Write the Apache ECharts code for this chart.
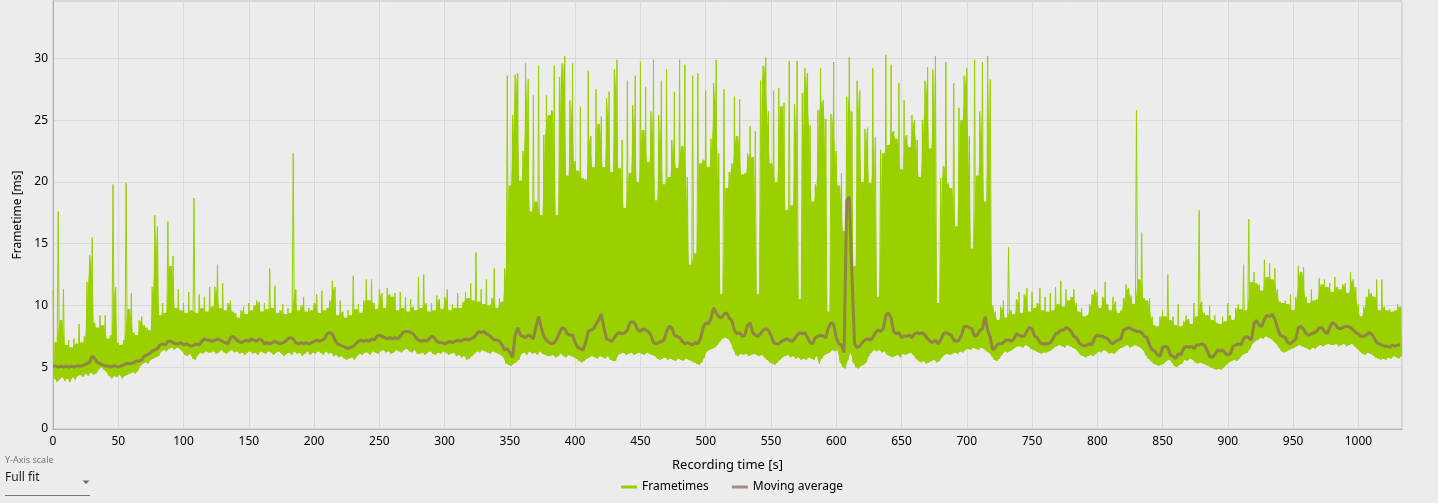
<!DOCTYPE html>
<html>
<head>
<meta charset="utf-8">
<script src="https://cdn.jsdelivr.net/npm/echarts@6/dist/echarts.min.js"></script>
<style>
html,body{margin:0;padding:0;background:#ececec;}
#c{width:1438px;height:503px;}
</style>
</head>
<body>
<div id="c"></div>
<script>
// Frametime samples, one bin every 2 s: peak (hi) and floor (lo) of each bin
const hi = [
11.2,7.0,17.6,8.8,11.3,6.8,7.2,6.6,7.3,6.9,
8.5,7.0,7.5,11.9,14.1,15.5,8.6,8.2,9.2,8.4,
9.2,7.3,7.6,19.8,11.5,7.0,6.8,7.2,19.9,9.7,
11.0,7.8,7.6,8.8,9.1,8.4,8.2,8.0,11.5,17.3,
16.4,9.2,10.2,9.4,16.8,13.2,14.0,9.8,11.3,9.6,
10.2,9.4,11.1,9.6,18.7,9.4,10.9,9.8,10.7,9.5,
11.5,9.9,11.5,13.3,9.8,11.8,9.6,10.2,10.4,9.5,
9.4,9.0,9.6,9.9,9.3,10.2,9.6,10.0,10.4,10.3,
9.5,10.2,9.7,13.0,9.8,11.6,9.4,9.6,10.1,9.3,
9.8,9.4,22.3,11.3,9.6,10.0,10.7,9.5,9.8,9.6,
10.2,10.9,9.4,11.2,9.6,9.8,10.4,12.0,11.5,9.2,
10.4,9.5,9.0,9.6,9.2,12.4,9.7,10.1,9.4,10.4,
12.1,10.4,12.1,10.2,9.7,11.3,11.0,9.8,11.4,10.9,
10.7,11.0,9.6,11.1,9.8,10.7,9.5,10.5,9.9,9.6,
12.3,9.8,12.5,10.2,9.5,10.2,9.6,10.8,10.5,9.7,
10.7,11.3,9.6,10.1,9.8,11.0,9.8,10.3,11.1,10.6,
11.8,10.4,14.3,10.3,11.3,10.1,12.1,10.0,10.6,13.0,
9.8,10.6,10.3,13.0,28.6,19.7,25.4,28.7,28.8,20.1,
22.5,29.6,28.3,17.6,27.0,18.4,29.4,17.3,23.8,27.0,
25.4,25.8,29.4,17.3,28.5,29.6,30.2,20.5,26.6,29.6,
21.7,20.9,26.1,20.3,20.2,29.0,23.7,21.2,27.5,24.7,
25.3,21.2,26.8,27.3,20.8,29.1,29.9,21.1,23.4,17.9,
28.2,20.7,26.2,28.6,20.0,29.7,24.2,27.7,21.6,25.7,
29.9,18.5,25.4,28.2,19.8,29.1,20.4,23.4,27.3,21.1,
29.9,22.9,29.5,20.4,13.3,28.6,14.2,28.8,21.5,21.8,
27.4,21.2,23.5,28.0,29.9,22.3,10.9,27.5,19.5,20.8,
21.5,26.9,23.7,26.7,20.6,20.7,22.3,24.5,22.0,24.1,
10.9,28.2,29.4,30.1,25.7,21.5,27.4,20.0,27.6,26.1,
26.4,17.7,29.8,18.1,26.3,29.8,10.5,27.2,29.2,28.8,
24.6,18.4,19.8,25.8,29.2,26.6,25.1,9.5,25.5,29.7,
22.5,19.7,20.7,16.0,26.9,30.1,25.7,13.2,28.2,27.4,
20.0,24.3,24.4,19.9,29.2,23.6,10.7,22.6,22.3,30.3,
23.0,29.5,24.1,23.5,28.0,21.0,26.6,23.8,22.8,25.4,
25.0,23.4,20.4,25.0,28.2,29.3,22.7,29.1,30.2,10.2,
20.3,21.3,29.7,19.9,19.5,28.0,16.4,26.0,25.0,28.6,
29.2,23.7,14.6,29.9,20.5,25.7,29.7,18.4,30.2,28.3,
10.0,9.5,8.8,9.9,10.4,9.0,14.7,9.6,9.3,10.5,
11.1,9.4,10.9,11.4,9.5,11.1,9.8,10.2,11.4,9.6,
10.7,9.5,11.0,9.6,11.5,10.1,12.0,9.9,11.3,10.4,
10.7,11.3,10.2,9.5,9.8,9.1,9.2,10.1,10.9,11.3,
11.1,9.8,10.7,11.9,10.1,9.6,10.7,10.3,9.4,9.6,
10.6,11.7,11.4,10.8,10.1,25.8,12.1,15.9,10.6,10.4,
10.6,9.1,8.4,8.3,9.1,9.6,9.1,12.5,8.8,9.1,
8.4,10.1,8.3,8.7,9.2,8.9,8.5,10.2,9.1,17.7,
10.3,9.4,9.2,10.0,8.8,9.2,8.6,8.5,9.1,8.7,
10.2,9.2,8.8,9.8,10.1,9.7,13.3,9.6,17.0,11.9,
12.7,11.8,11.7,11.2,13.7,12.3,13.4,12.1,13.0,11.3,
10.3,10.2,10.4,10.1,10.9,9.6,10.7,13.2,12.7,13.1,
10.7,10.2,11.3,10.4,10.5,12.2,11.7,12.1,11.5,11.8,
11.1,12.3,11.5,11.3,11.7,11.8,11.0,12.7,12.1,11.5,
10.1,9.1,9.9,10.7,11.3,11.0,10.7,12.1,9.6,12.1,
9.9,9.6,9.7,9.5,9.6,10.1,9.9
];
const lo = [
4.1,3.8,4.0,4.2,3.9,4.1,3.8,4.2,4.0,4.3,
4.4,4.2,4.5,4.3,4.6,4.4,4.5,4.8,5.0,4.8,
4.6,4.3,4.1,4.3,4.2,4.4,4.1,4.3,4.4,4.5,
4.6,4.5,4.7,5.1,5.3,5.4,5.3,5.6,5.7,5.8,
5.9,6.3,6.4,6.3,6.5,6.6,6.4,6.6,6.5,6.3,
6.0,5.9,6.1,5.7,5.6,6.0,6.2,6.1,6.3,6.2,
6.2,6.3,6.1,6.2,6.4,6.2,6.1,6.3,6.4,6.2,
6.3,6.1,6.2,6.0,6.2,6.3,6.1,6.2,6.0,6.3,
6.2,6.1,6.3,6.2,6.0,6.2,6.3,6.1,5.9,6.1,
6.2,6.0,6.3,6.1,6.2,5.9,6.1,6.3,6.0,6.2,
6.1,6.3,6.2,6.0,6.3,6.1,6.2,5.9,6.0,5.8,
5.9,5.7,5.6,5.7,5.8,5.6,5.9,6.1,6.0,6.2,
6.2,6.0,6.3,6.2,6.1,6.3,6.4,6.2,6.3,6.1,
6.2,6.4,6.3,6.2,6.4,6.5,6.3,6.2,6.4,6.1,
6.1,6.2,6.0,6.2,6.3,6.1,6.0,6.2,6.1,6.3,
6.2,6.0,6.1,6.2,5.9,6.0,5.8,5.9,5.6,5.7,
5.9,6.1,6.3,6.2,6.4,6.3,6.2,6.1,6.3,6.2,
6.1,6.0,5.8,5.3,5.2,5.1,5.3,5.4,5.6,6.1,
6.2,6.0,6.3,6.1,6.2,6.0,6.3,6.1,6.0,5.9,
5.9,6.0,5.8,5.9,6.1,5.9,5.8,6.0,5.9,5.8,
5.7,5.5,5.4,5.5,5.7,5.8,5.9,5.8,5.7,5.9,
5.8,5.7,5.9,5.6,5.5,5.5,6.0,6.1,6.2,6.0,
6.1,6.2,6.0,6.1,6.2,6.1,6.0,6.2,6.1,6.0,
5.9,5.7,5.6,5.7,5.8,5.6,5.7,5.6,5.5,5.7,
5.6,5.5,5.7,5.6,5.5,5.4,5.3,5.2,5.4,5.8,
6.3,6.4,6.5,6.6,6.8,7.1,7.3,7.4,7.3,7.0,
6.5,6.0,5.9,6.1,6.0,6.1,5.9,6.0,6.1,6.0,
5.9,6.0,5.8,5.6,5.4,5.3,5.2,5.4,5.6,5.8,
5.9,6.0,5.8,5.9,5.7,5.8,5.6,5.7,5.6,5.8,
5.7,5.6,5.9,5.3,5.7,6.0,6.1,6.2,6.4,6.3,
6.4,5.4,5.0,4.9,5.6,6.2,5.4,5.0,4.9,5.1,
5.2,5.4,5.9,6.2,6.4,6.3,6.4,6.2,6.3,6.0,
5.9,5.8,5.9,6.0,5.8,6.1,6.0,6.1,6.2,6.0,
5.7,5.5,5.4,5.5,5.3,5.4,5.5,5.6,5.4,5.5,
5.8,6.0,6.1,6.0,6.1,6.2,6.1,6.3,6.2,6.4,
6.5,6.4,6.6,6.5,6.4,6.6,6.5,6.3,6.2,5.9,
5.6,5.5,5.7,6.0,6.3,6.2,6.3,6.4,6.6,6.7,
6.7,6.6,6.8,6.7,6.5,6.4,6.3,6.2,6.1,6.2,
6.2,6.3,6.4,6.6,6.7,6.8,6.7,6.6,6.8,6.7,
6.6,6.5,6.3,6.0,5.9,5.8,5.9,6.0,5.9,6.1,
6.3,6.2,6.4,6.3,6.1,6.2,6.1,6.3,6.5,6.6,
6.7,6.8,6.6,6.7,6.8,6.7,6.6,6.4,6.0,5.7,
5.5,5.3,5.2,5.1,5.2,5.3,5.5,5.6,5.4,5.1,
5.0,5.2,5.3,5.6,5.5,5.7,5.6,5.4,5.3,5.4,
5.3,5.2,5.1,5.0,4.9,4.8,4.9,4.8,5.0,5.2,
5.4,5.5,5.6,5.5,5.7,6.0,6.1,6.2,6.5,6.9,
7.1,7.2,7.4,7.3,7.5,7.4,7.3,7.1,6.9,6.6,
6.3,6.2,6.3,6.4,6.5,6.6,6.7,6.8,6.7,6.6,
6.5,6.4,6.6,6.5,6.7,6.8,6.7,6.8,6.9,6.8,
6.8,6.9,6.7,6.8,6.9,6.7,6.8,6.9,6.7,6.5,
6.3,6.1,6.0,6.2,6.1,6.0,5.8,5.7,5.6,5.7,
5.6,5.8,5.7,5.9,5.8,5.7,5.9
];
// Moving average, one value every 2 s
const movingAvg = [
5.1,5.1,5.0,5.1,5.0,5.1,5.0,5.1,5.0,5.1,
5.1,5.1,5.2,5.3,5.4,5.9,5.7,5.4,5.3,5.2,
5.1,5.1,5.0,5.1,5.1,5.0,5.1,5.2,5.3,5.3,
5.3,5.4,5.5,5.5,5.6,5.9,6.0,6.1,6.3,6.4,
6.5,6.8,6.9,6.8,7.1,7.1,7.0,6.9,6.9,7.0,
6.8,6.9,6.8,6.7,6.8,6.9,6.8,7.1,7.3,7.2,
7.2,7.1,7.2,7.3,7.2,7.1,7.0,6.9,7.4,7.5,
7.3,7.1,7.0,7.1,7.2,7.1,7.3,7.2,7.1,7.3,
7.2,6.9,7.0,6.9,7.0,7.1,7.0,6.9,7.0,7.1,
7.3,7.4,7.3,7.0,6.9,7.0,6.9,7.0,6.9,7.0,
7.1,7.2,7.1,7.2,7.3,7.7,7.8,7.7,7.2,6.9,
6.8,6.7,6.6,6.5,6.6,6.7,6.9,7.1,7.2,7.1,
7.2,7.1,7.3,7.2,7.5,7.6,7.5,7.4,7.3,7.4,
7.3,7.4,7.3,7.5,7.8,7.9,7.9,7.8,7.7,7.4,
7.2,7.1,7.2,7.1,7.3,7.5,7.4,7.1,7.0,7.0,
6.9,7.0,7.1,7.0,7.1,7.2,7.1,7.2,7.3,7.2,
7.3,7.4,7.6,7.9,7.8,7.9,7.7,7.6,7.4,7.2,
7.2,7.1,6.8,6.4,6.5,6.2,5.8,7.6,8.2,7.6,
7.5,7.4,7.6,7.5,7.3,8.3,9.1,8.2,7.5,7.2,
7.0,6.9,7.0,7.3,7.8,8.2,8.1,7.7,7.6,7.6,
7.0,6.6,6.5,6.4,7.0,7.9,8.0,8.1,8.5,8.8,
9.3,8.2,7.3,7.2,7.1,7.4,7.7,7.8,7.7,7.8,
8.0,8.6,8.7,8.5,8.0,7.9,8.1,8.0,7.9,7.6,
7.0,6.9,7.0,7.1,7.2,7.9,8.3,8.2,7.6,7.5,
7.4,7.1,6.9,7.0,6.9,6.8,7.0,6.9,7.3,8.2,
8.6,8.5,8.9,9.8,9.4,9.1,9.0,9.3,9.4,9.0,
8.8,8.0,7.7,7.8,7.5,7.6,8.4,8.6,7.8,7.6,
7.5,7.7,8.0,8.1,8.0,7.6,7.0,6.9,6.9,7.1,
7.2,7.3,7.2,7.1,7.3,7.6,7.8,7.7,7.8,7.4,
7.0,6.9,7.4,7.5,7.6,7.5,7.4,8.2,8.6,8.5,
7.4,6.9,6.8,6.2,18.5,18.8,12.5,6.9,6.6,6.7,
7.0,7.2,7.3,7.2,7.4,7.8,8.0,7.9,8.1,9.2,
9.4,9.0,7.9,7.7,7.8,7.4,7.5,7.5,7.6,7.4,
7.7,7.8,7.7,7.8,7.6,7.3,7.1,7.0,7.2,6.9,
7.2,7.7,7.8,7.7,7.6,7.2,7.1,7.2,7.6,8.3,
8.3,8.2,8.1,7.5,7.6,8.0,8.1,9.1,8.0,7.4,
6.4,6.6,6.9,6.9,7.0,7.2,7.2,7.1,7.3,7.7,
7.6,7.5,7.5,7.9,8.2,8.1,7.5,7.4,7.0,6.9,
6.9,6.9,7.0,7.3,7.7,7.8,8.0,8.0,8.2,8.1,
7.9,7.5,7.4,7.0,6.8,6.7,6.8,6.9,6.8,7.4,
7.6,7.5,7.5,7.4,7.3,7.0,6.9,7.1,7.2,7.3,
8.0,8.1,8.2,8.1,8.0,7.9,7.9,7.8,7.5,7.4,
6.8,6.4,6.3,6.0,5.9,6.6,6.7,6.6,6.0,5.9,
5.7,6.1,6.0,6.5,6.7,6.6,6.7,6.5,6.8,6.8,
6.9,6.8,6.4,5.9,5.8,6.0,6.4,6.3,6.4,6.1,
6.0,6.1,6.7,6.8,6.9,6.8,7.3,7.5,7.4,7.2,
8.5,8.8,8.4,8.3,8.9,9.2,9.1,9.3,8.9,8.2,
7.6,7.5,7.4,7.0,6.9,7.1,7.3,8.2,8.3,8.1,
7.7,7.6,7.7,7.8,7.9,8.2,8.2,7.9,7.7,8.2,
8.6,8.5,8.2,8.1,8.2,8.3,8.3,8.2,8.0,7.8,
7.7,7.5,7.5,7.6,7.8,7.7,7.4,7.0,6.9,6.8,
6.7,6.7,6.6,6.8,6.7,6.8,6.8
];
const seriesNames = ['Frametimes', 'Moving average'];
const binSeconds = 2;        // spacing of the samples above
const xMax = 1033.4, yMax = 34.65;
const xTickStep = 50, yTickStep = 5;

// zig-zag through each bin's peak and floor
const frameData = [];
for (let i = 0; i < hi.length; i++) {
  frameData.push([i * binSeconds, hi[i]]);
  frameData.push([i * binSeconds + 1, lo[i]]);
}
const avgData = movingAvg.map((v, i) => [i * binSeconds, v]);

const FONT = "'Noto Sans', 'Liberation Sans', sans-serif";
const GREEN = '#9acf00';
const BROWN = 'rgba(142,106,92,0.74)';

// dense body of the trace: from each floor up to the lower of the two neighbouring peaks
function renderBody(params, api) {
  const top = [], bottom = [];
  for (let i = 0; i < hi.length; i++) {
    const x = i * binSeconds + 1;
    const t = i < hi.length - 1 ? Math.min(hi[i], hi[i + 1]) : hi[i];
    top.push(api.coord([x, t]));
    bottom.push(api.coord([x, lo[i]]));
  }
  const pts = top.concat(bottom.reverse());
  return {type: 'polygon', shape: {points: pts}, style: {fill: GREEN}, silent: true};
}

const chart = echarts.init(document.getElementById('c'), null, {renderer: 'canvas'});
chart.setOption({
  animation: false,
  backgroundColor: '#ececec',
  textStyle: {fontFamily: FONT},
  grid: {left: 53, right: 36, top: 1, bottom: 74, show: true, borderColor: '#c2c2c2', borderWidth: 1, backgroundColor: 'transparent'},
  legend: {
    left: 621, top: 481, padding: 0, itemWidth: 16, itemHeight: 3, itemGap: 23, icon: 'rect',
    textStyle: {fontSize: 12, color: '#000', fontFamily: FONT},
    data: seriesNames
  },
  xAxis: {
    type: 'value', min: 0, max: xMax, interval: xTickStep,
    name: 'Recording time [s]', nameLocation: 'middle', nameGap: 30,
    nameTextStyle: {fontSize: 13, color: '#000', fontFamily: FONT},
    axisLine: {show: true, lineStyle: {color: '#b5b5b5', width: 1}},
    axisTick: {show: false},
    axisLabel: {color: '#000', fontSize: 12, margin: 7, showMaxLabel: false, fontFamily: FONT,
      formatter: v => String(v)},
    splitLine: {show: true, lineStyle: {color: '#d9d9d9', width: 1}}
  },
  yAxis: {
    type: 'value', min: 0, max: yMax, interval: yTickStep,
    name: 'Frametime [ms]', nameLocation: 'middle', nameGap: 29, nameRotate: 90,
    nameTextStyle: {fontSize: 12, color: '#000', fontFamily: FONT},
    axisLine: {show: true, lineStyle: {color: '#b0b0b0', width: 1}},
    axisTick: {show: false},
    axisLabel: {color: '#000', fontSize: 12, margin: 5, showMaxLabel: false, fontFamily: FONT,
      formatter: v => String(v)},
    splitLine: {show: true, lineStyle: {color: '#d9d9d9', width: 1}}
  },
  series: [
    {
      name: 'body', type: 'custom', data: [[0, 0]], encode: {x: 0, y: 1},
      renderItem: renderBody, silent: true, clip: true, z: 1
    },
    {
      name: seriesNames[0], type: 'line', data: frameData, symbol: 'none', showSymbol: false,
      lineStyle: {width: 1, color: GREEN}, itemStyle: {color: GREEN}, silent: true, z: 2
    },
    {
      name: seriesNames[1], type: 'line', data: avgData, symbol: 'none', showSymbol: false,
      lineStyle: {width: 3, color: BROWN}, itemStyle: {color: BROWN}, silent: true, z: 3
    }
  ],
  graphic: [
    {type: 'text', left: 5, top: 456, style: {text: 'Y-Axis scale', fill: '#7a7a7a', font: "9px 'Noto Sans', sans-serif"}},
    {type: 'text', left: 5, top: 472, style: {text: 'Full fit', fill: '#1a1a1a', font: "12px 'Noto Sans', sans-serif"}},
    {type: 'polygon', shape: {points: [[82.5, 480.5], [89.5, 480.5], [86, 484]]}, style: {fill: '#666'}},
    {type: 'line', shape: {x1: 5, y1: 495.5, x2: 90, y2: 495.5}, style: {stroke: '#777', lineWidth: 1}}
  ]
});
</script>
</body>
</html>
